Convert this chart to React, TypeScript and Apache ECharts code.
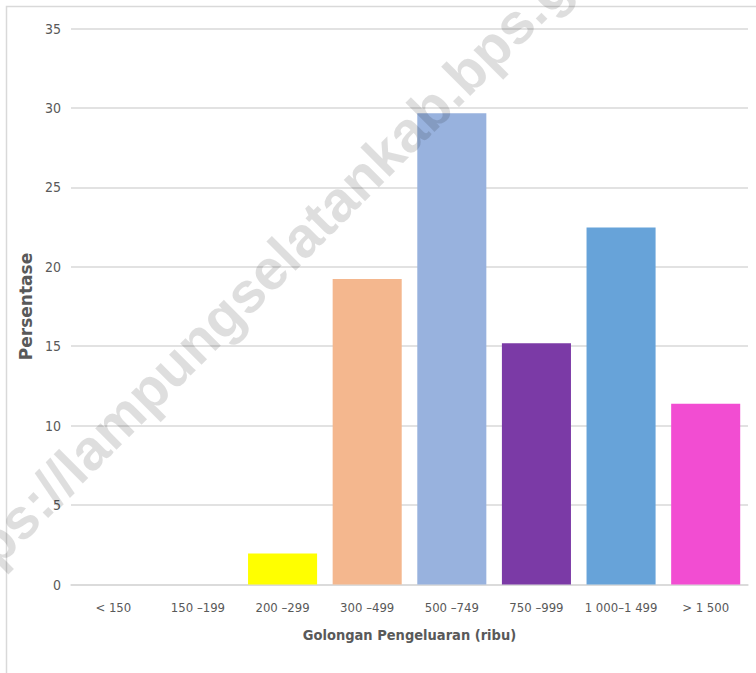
import React, { useEffect, useRef } from "react";
import * as echarts from "echarts";

const categories = ["< 150", "150 \u2013199", "200 \u2013299", "300 \u2013499", "500 \u2013749", "750 \u2013999", "1 000\u20131 499", "> 1 500"];
const values = [0, 0, 1.95, 19.23, 29.66, 15.18, 22.48, 11.38];
const barColors = ["#FFFF00", "#FFFF00", "#FFFF00", "#F4B78E", "#98B2DE", "#7B3AA6", "#67A3D9", "#F24DD2"];
const yTicks = { min: 0, max: 35, interval: 5 };
const xAxisTitle = "Golongan Pengeluaran (ribu)";
const yAxisTitle = "Persentase";
const watermark = "https://lampungselatankab.bps.go.id";

const NARROW = "'Liberation Sans Narrow', 'DejaVu Sans Condensed', 'Arial Narrow', sans-serif";

export default function App() {
  const ref = useRef<HTMLDivElement>(null);
  useEffect(() => {
    if (!ref.current) return;
    const chart = echarts.init(ref.current, null, { renderer: "svg" });
    chart.setOption({
      animation: false,
      backgroundColor: "#ffffff",
      grid: { left: 71, right: 8, top: 28.5, bottom: 88.5, containLabel: false },
      xAxis: {
        type: "category",
        data: categories,
        axisTick: { show: false },
        axisLine: { show: true, lineStyle: { color: "#d9d9d9", width: 1.5 } },
        axisLabel: { color: "#595959", fontFamily: NARROW, fontSize: 13, margin: 16, interval: 0 },
        name: xAxisTitle,
        nameLocation: "middle",
        nameGap: 43,
        nameTextStyle: { color: "#595959", fontFamily: NARROW, fontWeight: "bold", fontSize: 14.5 },
      },
      yAxis: {
        type: "value",
        min: yTicks.min,
        max: yTicks.max,
        interval: yTicks.interval,
        axisLine: { show: false },
        axisTick: { show: false },
        splitLine: { show: true, lineStyle: { color: "#d9d9d9", width: 1.5 } },
        axisLabel: { color: "#595959", fontFamily: NARROW, fontSize: 14, margin: 10 },
        name: yAxisTitle,
        nameLocation: "middle",
        nameGap: 16,
        nameTextStyle: { color: "#595959", fontFamily: "'DejaVu Sans', sans-serif", fontWeight: "bold", fontSize: 17 },
      },
      series: [
        {
          type: "bar",
          data: values.map((v, i) => ({ value: v, itemStyle: { color: barColors[i] } })),
          barCategoryGap: "18.4%",
        },
      ],
      graphic: [
        {
          type: "rect",
          shape: { x: 6.5, y: 6.5, width: 900, height: 900 },
          style: { fill: "none", stroke: "#d9d9d9", lineWidth: 1.5 },
          silent: true,
        },
        {
          type: "text",
          x: 282,
          y: 256,
          rotation: Math.PI / 4,
          z: 100,
          silent: true,
          style: {
            text: watermark,
            fill: "rgba(0,0,0,0.13)",
            font: "bold 57px 'Liberation Sans', Arial, sans-serif",
            textAlign: "center",
            textVerticalAlign: "middle",
          },
        },
      ],
    });
    return () => chart.dispose();
  }, []);
  return (
    <div
      ref={ref}
      style={{ position: "fixed", left: 0, top: 0, width: 756, height: 673 }}
    />
  );
}
